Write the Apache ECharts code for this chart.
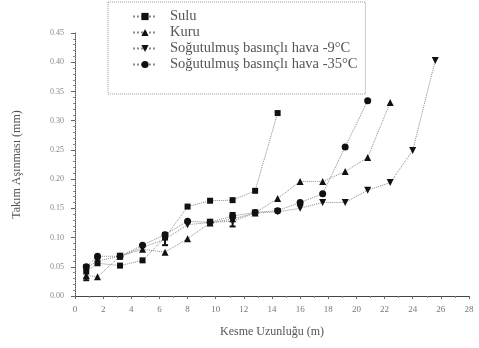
<!DOCTYPE html>
<html><head><meta charset="utf-8">
<script src="https://cdn.jsdelivr.net/npm/echarts@6/dist/echarts.min.js"></script>
<style>html,body{margin:0;padding:0;background:#fff;}#c{width:479px;height:348px;}</style>
</head><body><div id="c"></div>
<script>
const xPos = [0.8, 1.6, 3.2, 4.8, 6.4, 8.0, 9.6, 11.2, 12.8, 14.4, 16.0, 17.6, 19.2, 20.8, 22.4, 24.0, 25.6];
const seriesNames = ['Sulu', 'Kuru', 'Soğutulmuş basınçlı hava -9°C', 'Soğutulmuş basınçlı hava -35°C'];
const sulu = [0.042, 0.056, 0.052, 0.061, 0.100, 0.153, 0.163, 0.164, 0.180, 0.313];
const kuru = [0.035, 0.033, 0.068, 0.080, 0.075, 0.098, 0.125, 0.132, 0.142, 0.167, 0.196, 0.196, 0.213, 0.237, 0.331];
const minus9 = [0.048, 0.060, 0.068, 0.083, 0.097, 0.122, 0.126, 0.128, 0.142, 0.144, 0.150, 0.160, 0.160, 0.181, 0.194, 0.249, 0.403];
const minus35 = [0.050, 0.068, 0.068, 0.087, 0.105, 0.128, 0.126, 0.137, 0.143, 0.146, 0.160, 0.175, 0.255, 0.334];
const errorBars = [[0.8, 0.027, 0.051], [6.4, 0.087, 0.108], [11.2, 0.119, 0.142]];

const pairs = arr => arr.map((v, i) => [xPos[i], v]);
const font = 'Liberation Serif';
const symbols = ['rect', 'triangle', 'path://M0,0 L10,0 L5,9 Z', 'circle'];
const sizes = [6, 7, 7, 7];
const valueSets = [sulu, kuru, minus9, minus35];

const lineSeries = valueSets.map((vals, i) => ({
  name: seriesNames[i],
  type: 'line',
  data: pairs(vals),
  symbol: symbols[i],
  symbolSize: sizes[i],
  itemStyle: {color: '#111'},
  lineStyle: {color: '#8a8a8a', width: 1, type: 'dotted'},
  emphasis: {disabled: true},
  z: 3
}));

const errSeries = {
  type: 'custom',
  data: errorBars,
  z: 4,
  renderItem: function (params, api) {
    const x = api.value(0);
    const lo = api.coord([x, api.value(1)]);
    const hi = api.coord([x, api.value(2)]);
    const w = 3;
    return {
      type: 'group',
      children: [
        {type: 'line', shape: {x1: lo[0], y1: lo[1], x2: hi[0], y2: hi[1]}, style: {stroke: '#111', lineWidth: 2}},
        {type: 'line', shape: {x1: lo[0] - w, y1: lo[1], x2: lo[0] + w, y2: lo[1]}, style: {stroke: '#111', lineWidth: 2}},
        {type: 'line', shape: {x1: hi[0] - w, y1: hi[1], x2: hi[0] + w, y2: hi[1]}, style: {stroke: '#111', lineWidth: 2}}
      ]
    };
  }
};

const chart = echarts.init(document.getElementById('c'), null, {renderer: 'canvas'});
chart.setOption({
  animation: false,
  backgroundColor: '#fff',
  textStyle: {fontFamily: font},
  grid: {left: 75, right: 10, top: 33, bottom: 52},
  legend: {
    data: seriesNames,
    orient: 'vertical',
    left: 108,
    top: 2,
    width: 257,
    padding: [7, 8, 22, 24],
    itemGap: 1,
    itemWidth: 24,
    itemHeight: 9,
    borderColor: '#999',
    borderWidth: 1,
    borderType: 'dotted',
    textStyle: {fontFamily: font, fontSize: 14.5, lineHeight: 15, color: '#555', padding: [0, 0, 0, 8]},
    selectedMode: false
  },
  xAxis: {
    type: 'value',
    min: 0, max: 28, interval: 2,
    name: 'Kesme Uzunluğu (m)',
    nameLocation: 'middle',
    nameGap: 30,
    nameTextStyle: {fontFamily: font, fontSize: 12, color: '#555'},
    axisLine: {lineStyle: {color: '#444', width: 1}},
    axisTick: {show: true, inside: false, length: 3, lineStyle: {color: '#666'}},
    minorTick: {show: true, splitNumber: 2, length: 2, lineStyle: {color: '#888'}},
    axisLabel: {fontFamily: font, fontSize: 9, color: '#777', margin: 9},
    splitLine: {show: false}
  },
  yAxis: {
    type: 'value',
    min: 0, max: 0.45, interval: 0.05,
    name: 'Takım Aşınması (mm)',
    nameLocation: 'middle',
    nameGap: 52,
    nameRotate: 90,
    nameTextStyle: {fontFamily: font, fontSize: 12, color: '#555'},
    axisLine: {show: true, lineStyle: {color: '#555', width: 1, type: 'dotted'}},
    axisTick: {show: true, length: 4, lineStyle: {color: '#666'}},
    minorTick: {show: true, splitNumber: 5, length: 2, lineStyle: {color: '#888'}},
    axisLabel: {fontFamily: font, fontSize: 8, color: '#888', margin: 11, formatter: v => v.toFixed(2)},
    splitLine: {show: false}
  },
  series: lineSeries.concat([errSeries])
});
</script></body></html>
